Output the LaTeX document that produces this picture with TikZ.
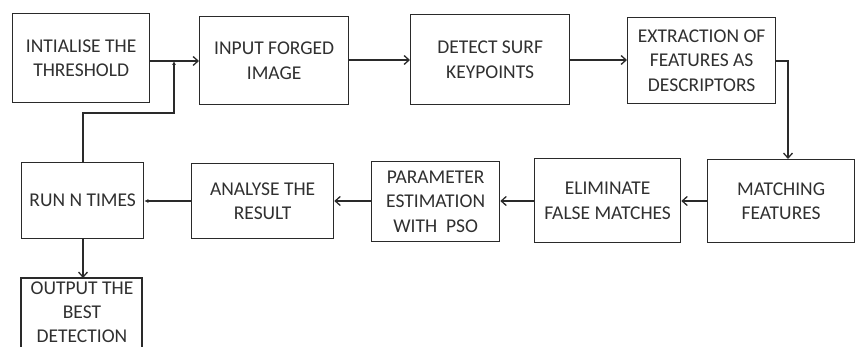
\documentclass[tikz,border=0pt]{standalone}
\usepackage{fontspec}
\setmainfont{Carlito}
\usetikzlibrary{arrows.meta}
\definecolor{txt}{HTML}{303030}
\definecolor{ln}{HTML}{2A2A2A}
\begin{document}
\begin{tikzpicture}[x=1pt,y=-1pt,
  lbl/.style={text=txt,align=center,inner sep=0pt,font=\fontsize{19.5}{24.5}\selectfont},
  box/.style={lbl,draw=ln,line width=1.3pt,anchor=north west},
  arr/.style={draw=ln,line width=1.3pt,-{Straight Barb[length=5pt,width=9pt]}},
  arrf/.style={draw=ln,line width=1.3pt,-{Latex[length=4pt,width=4pt]}}]
\useasboundingbox[fill=white] (0,0) rectangle (856,347);
\clip (0,0) rectangle (856,347);
\node[box,minimum width=137pt,minimum height=89pt] (b1) at (12,13) {INTIALISE THE\\THRESHOLD};
\node[box,minimum width=149pt,minimum height=88pt] (b2) at (199,16) {INPUT FORGED\\IMAGE};
\node[box,minimum width=159pt,minimum height=90pt] (b3) at (410,14) {DETECT SURF\\KEYPOINTS};
\node[box,minimum width=148pt,minimum height=86pt] (b4) at (627,17) {EXTRACTION OF\\FEATURES AS\\DESCRIPTORS};
\node[box,minimum width=147pt,minimum height=83pt] (b5) at (707,159) {MATCHING\\FEATURES};
\node[box,minimum width=146pt,minimum height=84pt] (b6) at (534,158) {ELIMINATE\\FALSE MATCHES};
\node[box,minimum width=128pt,minimum height=80pt] (b7) at (371,161) {PARAMETER\\ESTIMATION\\WITH\ \ PSO};
\node[box,minimum width=142pt,minimum height=75pt] (b8) at (191,163) {ANALYSE THE\\RESULT};
\node[box,minimum width=122pt,minimum height=76pt] (b9) at (21,162) {RUN N TIMES};
% output box: its lower edge lies below the picture
\coordinate (o1) at (21,278);
\coordinate (o2) at (142,278);
\coordinate (b10top) at (83,278);
\draw[ln,line width=1.3pt] (21,360) -- (o1) -- (o2) -- (142,360);
\node[lbl,anchor=north,font=\fontsize{19.5}{24}\selectfont] (b10) at (82,282) {OUTPUT THE\\BEST\\DETECTION};
\coordinate (j) at (174,61);
\draw[arr] (b1.east |- 0,61) -- (b2.west |- 0,61);
\draw[arrf] (83,162) -- (83,113) -- (174,113) -- (j);
\draw[arr] (b2.east |- 0,60) -- (b3.west |- 0,60);
\draw[arr] (b3.east |- 0,60) -- (b4.west |- 0,60);
\draw[arr] (b4.east |- 0,61) -- (788,61) -- (b5.north -| 788,0);
\draw[arr] (b5.west |- 0,201) -- (b6.east |- 0,201);
\draw[arr] (b6.west |- 0,201) -- (b7.east |- 0,201);
\draw[arr] (b7.west |- 0,201) -- (b8.east |- 0,201);
\draw[arrf] (b8.west |- 0,201) -- (b9.east |- 0,201);
\draw[arr] (b9.south -| 83,0) -- (b10top);
\end{tikzpicture}
\end{document}
